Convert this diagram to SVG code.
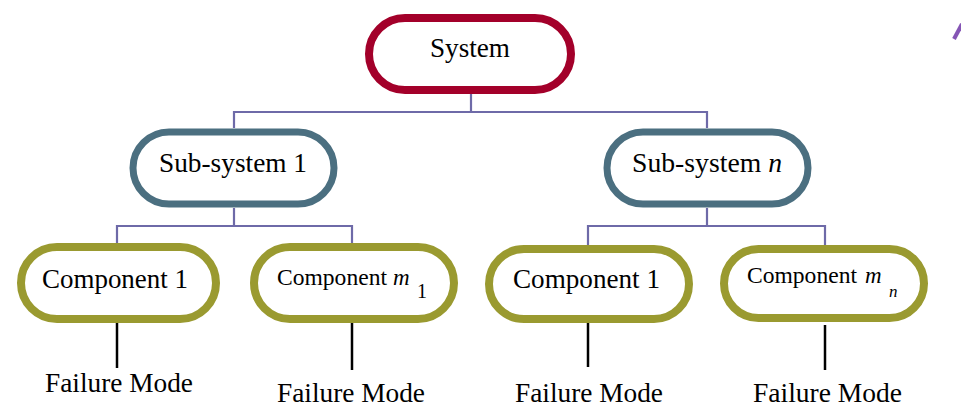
<svg xmlns="http://www.w3.org/2000/svg" width="961" height="408" viewBox="0 0 961 408">
<style>
.n{fill:#fff;}
.sys{stroke:#A3002A;stroke-width:8;}
.sub{stroke:#4B6F80;stroke-width:7;}
.cmp{stroke:#9A9A30;stroke-width:8;}
.c{stroke:#6E6AA8;stroke-width:2.2;fill:none;}
.f{stroke:#000;stroke-width:2.5;}
text{font-family:"Liberation Serif","Times New Roman",serif;fill:#000;}
.t{font-size:27px;}
.s{font-size:23px;}
</style>
<rect width="961" height="408" fill="#fff"/>
<g id="connectors">
<path class="c" d="M471 94V112M234 128V112H707V128M234 208V226M117 243V226H352V243M707 208V226M588 245V226H825V245"/>
<line class="f" x1="117" y1="323" x2="117" y2="368"/>
<line class="f" x1="352" y1="323" x2="352" y2="370"/>
<line class="f" x1="588" y1="323" x2="588" y2="367"/>
<line class="f" x1="825" y1="325" x2="825" y2="370"/>
</g>
<g id="system">
<rect class="n sys" x="369" y="18" width="202" height="72" rx="36"/>
<text class="t" x="470" y="57" text-anchor="middle" textLength="80" lengthAdjust="spacingAndGlyphs">System</text>
</g>
<g id="subsystem1">
<rect class="n sub" x="133" y="132" width="201" height="72" rx="36"/>
<text class="t" x="233" y="172" text-anchor="middle" textLength="148" lengthAdjust="spacingAndGlyphs">Sub-system 1</text>
</g>
<g id="subsystemn">
<rect class="n sub" x="607" y="132" width="201" height="72" rx="36"/>
<text class="t" x="632" y="172" textLength="150" lengthAdjust="spacingAndGlyphs">Sub-system <tspan font-style="italic">n</tspan></text>
</g>
<g id="component1a">
<rect class="n cmp" x="21" y="247" width="195" height="72" rx="36"/>
<text class="t" x="42" y="288" textLength="146" lengthAdjust="spacingAndGlyphs">Component 1</text>
</g>
<g id="componentm1">
<rect class="n cmp" x="254" y="247" width="200" height="72" rx="36"/>
<text class="s" x="277" y="285" textLength="110" lengthAdjust="spacingAndGlyphs">Component</text>
<text class="s" x="393" y="285" font-style="italic">m</text>
<text x="417" y="298" font-size="20">1</text>
</g>
<g id="component1b">
<rect class="n cmp" x="489" y="249" width="200" height="70" rx="35"/>
<text class="t" x="513" y="288" textLength="147" lengthAdjust="spacingAndGlyphs">Component 1</text>
</g>
<g id="componentmn">
<rect class="n cmp" x="724" y="249" width="200" height="69" rx="34.5"/>
<text class="s" x="747" y="283" textLength="110" lengthAdjust="spacingAndGlyphs">Component</text>
<text class="s" x="865" y="283" font-style="italic">m</text>
<text x="889" y="297" font-size="17" font-style="italic">n</text>
</g>
<g id="failures">
<text class="t" x="45" y="392" textLength="148" lengthAdjust="spacingAndGlyphs">Failure Mode</text>
<text class="t" x="277" y="402" textLength="148" lengthAdjust="spacingAndGlyphs">Failure Mode</text>
<text class="t" x="515" y="402" textLength="148" lengthAdjust="spacingAndGlyphs">Failure Mode</text>
<text class="t" x="753" y="402" textLength="149" lengthAdjust="spacingAndGlyphs">Failure Mode</text>
</g>
<line x1="954" y1="39" x2="962" y2="24" stroke="#8555B5" stroke-width="4"/>
</svg>
